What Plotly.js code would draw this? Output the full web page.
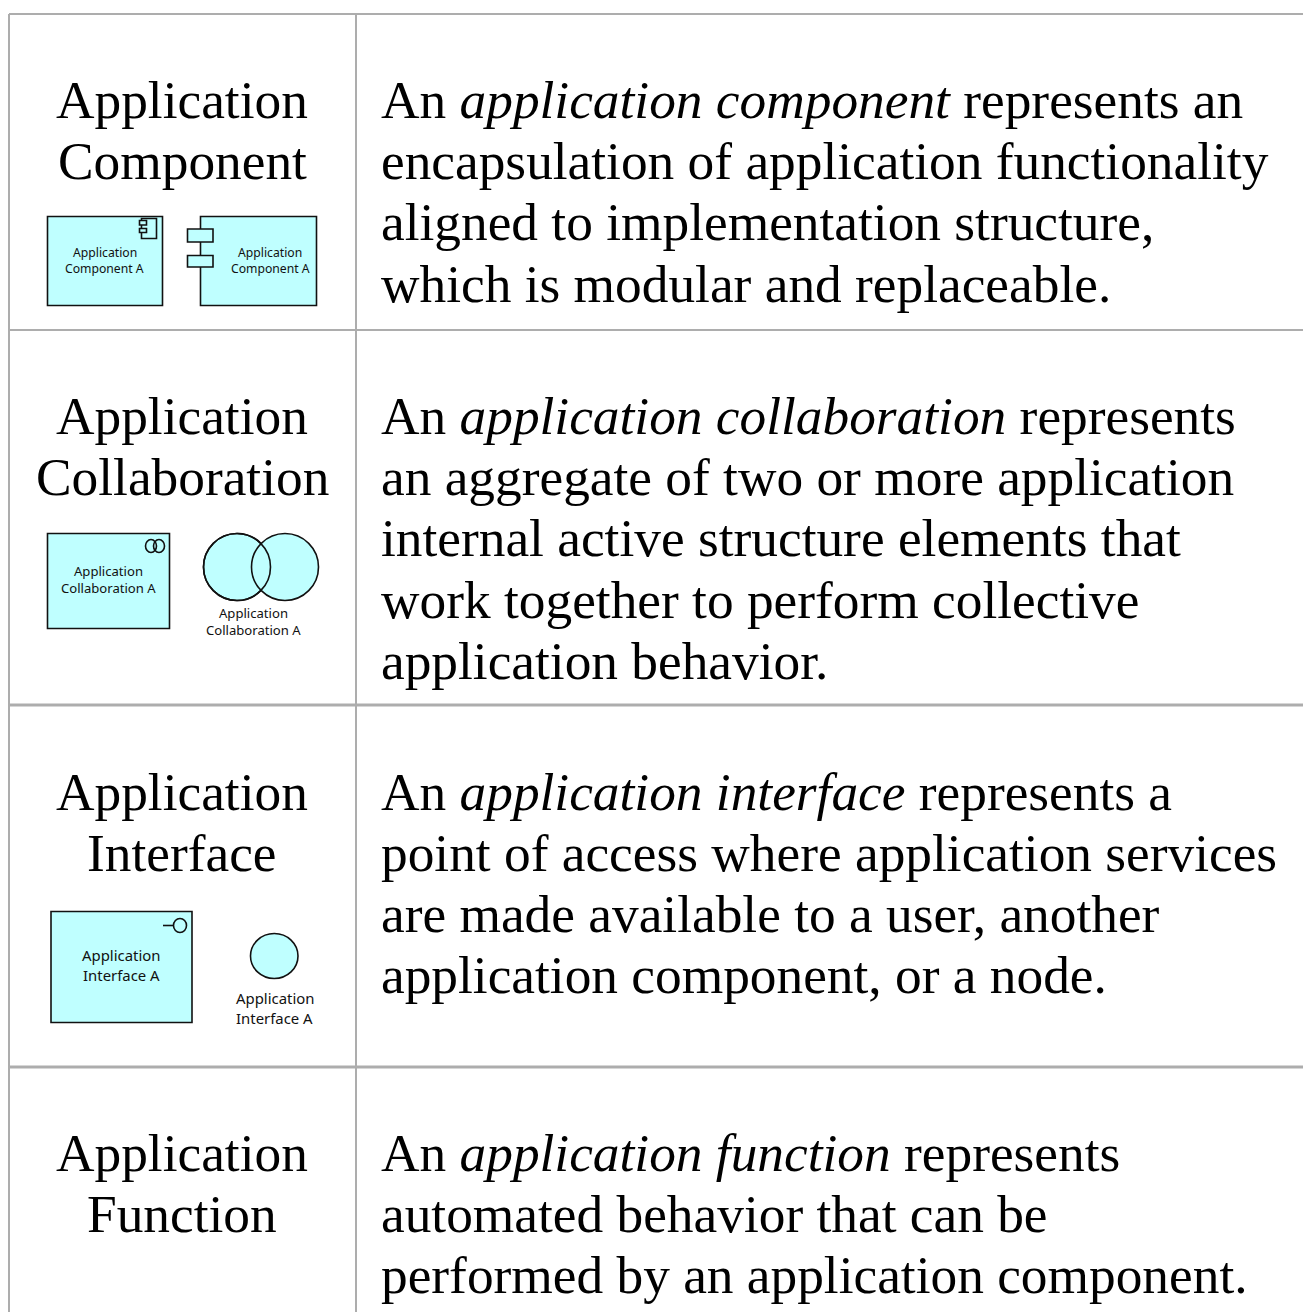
<!DOCTYPE html>
<html><head><meta charset="utf-8">
<script src="https://cdn.plot.ly/plotly-3.0.1.min.js"></script>
<style>html,body{margin:0;padding:0;background:#fff}#c{width:1303px;height:1312px}</style>
</head><body><div id="c"></div>
<script>
const termLines = [
  ["Application","Component"],
  ["Application","Collaboration"],
  ["Application","Interface"],
  ["Application","Function"]
];
const definitionLines = [
  ["An <i>application component</i> represents an","encapsulation of application functionality","aligned to implementation structure,","which is modular and replaceable."],
  ["An <i>application collaboration</i> represents","an aggregate of two or more application","internal active structure elements that","work together to perform collective","application behavior."],
  ["An <i>application interface</i> represents a","point of access where application services","are made available to a user, another","application component, or a node."],
  ["An <i>application function</i> represents","automated behavior that can be","performed by an application component."]
];
const elementLabels = [["Application","Component A"],["Application","Collaboration A"],["Application","Interface A"]];

// layout geometry
const W=1303,H=1312;
const colX=[9,356], rowY=[14,330,705,1067], rowW=[2,2,3,3];
const termBase=[100,416,791.5,1153], lineStep=61.2;
const ink='#111', fill='#bfffff', grid='#adadad', body='#000', none='rgba(0,0,0,0)';
const inset=0.5;

const shapes=[], annotations=[];
function rect(x0,y0,x1,y1){shapes.push({type:'rect',x0:x0+inset,y0:y0+inset,x1:x1-inset,y1:y1-inset,fillcolor:fill,line:{color:ink,width:1.6}});}
function circ(x0,y0,x1,y1,f){shapes.push({type:'circle',x0:x0+inset,y0:y0+inset,x1:x1-inset,y1:y1-inset,fillcolor:f||fill,line:{color:ink,width:1.6}});}
function seg(x0,y0,x1,y1,c,w){shapes.push({type:'line',x0,y0,x1,y1,line:{color:c||ink,width:w||1.6}});}
function note(text,x,y,size,family,anchor,color){annotations.push({text,x,y,xref:'x',yref:'y',xanchor:anchor,yanchor:'middle',showarrow:false,align:'center',borderpad:0,font:{size,family,color}});}
function label(i,x,y0,y1,size){note(elementLabels[i][0],x,y0,size,sans,'center',ink);note(elementLabels[i][1],x,y1,size,sans,'center',ink);}

colX.forEach(x=>seg(x,14,x,H,grid,2));
rowY.forEach((y,i)=>seg(9,y,W,y,grid,rowW[i]));

const serif='"Liberation Serif",serif', sans='"Noto Sans",sans-serif';
const bodySize=53.35;
termLines.forEach((ls,r)=>ls.forEach((t,i)=>note(t,182,termBase[r]+i*lineStep,bodySize,serif,'center',body)));
definitionLines.forEach((ls,r)=>ls.forEach((t,i)=>note(t,380,termBase[r]+i*lineStep,bodySize,serif,'left',body)));

// Application component
rect(47,216,163,306);
rect(141,218,157,239);
rect(139,220,147,225.5);rect(139,228,147,233);
rect(200,216,317,306);
rect(187,228.5,213.5,242.5);rect(187,255,213.5,267.5);
label(0,104.5,252,268,12.2);
label(0,270,252,268,12.2);
// Application collaboration
rect(47,533,170,629);
circ(145,539,157,553,none);circ(153,539,165,553,none);
circ(203,533,271,601);circ(251,533,319,601);
circ(203,533,271,601,none);
label(1,108,570.5,587.5,13.1);
label(1,253,612.5,629.5,13.1);
// Application interface
rect(50.5,911,192.5,1023);
circ(173,918,187,933,none);seg(163,925.5,173,925.5);
circ(250,933,298.5,979);
label(2,121,954.5,975,14.9);
label(2,274.5,997.5,1018,14.9);

Plotly.newPlot('c',[{type:'scatter',x:[],y:[],hoverinfo:'skip'}],{
  width:W,height:H,margin:{l:0,r:0,t:0,b:0},paper_bgcolor:'#fff',plot_bgcolor:'#fff',showlegend:false,
  xaxis:{range:[0,W],visible:false,fixedrange:true},
  yaxis:{range:[H,0],visible:false,fixedrange:true},
  shapes,annotations
},{displayModeBar:false,staticPlot:true});
</script></body></html>
